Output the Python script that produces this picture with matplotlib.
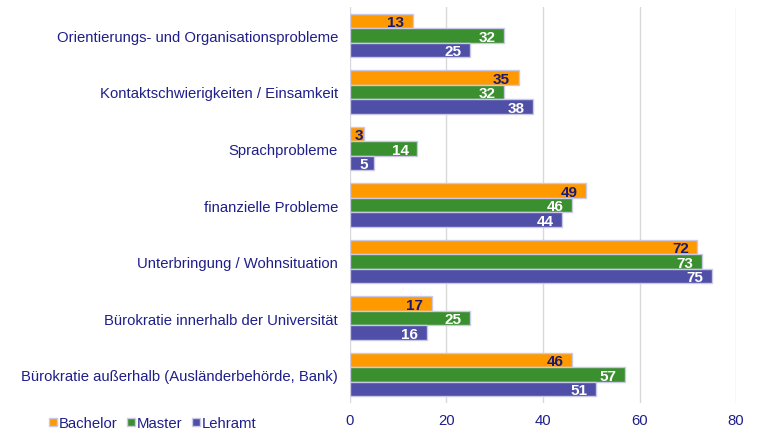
import numpy as np
import matplotlib.pyplot as plt
from matplotlib.lines import Line2D

categories = [
    "Orientierungs- und Organisationsprobleme",
    "Kontaktschwierigkeiten / Einsamkeit",
    "Sprachprobleme",
    "finanzielle Probleme",
    "Unterbringung / Wohnsituation",
    "Bürokratie innerhalb der Universität",
    "Bürokratie außerhalb (Ausländerbehörde, Bank)",
]
bachelor = [13, 35, 3, 49, 72, 17, 46]
master = [32, 32, 14, 46, 73, 25, 57]
lehramt = [25, 38, 5, 44, 75, 16, 51]
series_names = ["Bachelor", "Master", "Lehramt"]

colors = ["#FF9900", "#3A8F2E", "#4F4FA8"]
label_colors = ["#1A1A6E", "white", "white"]
navy = "#1F1F8A"

plt.rcParams['font.family'] = ['Liberation Sans', 'DejaVu Sans']

fig = plt.figure(figsize=(7.62, 4.31), dpi=100)
ax = fig.add_axes([0.459, 0.063, 0.507, 0.918])

y = np.arange(len(categories))
h = 0.257
for k, vals in enumerate([bachelor, master, lehramt]):
    pos = y + (k - 1) * h
    bars = ax.barh(pos, vals, height=h, color=colors[k], edgecolor="#C9C9E6",
                   linewidth=1.0, zorder=3)
    for b, v in zip(bars, vals):
        yc = b.get_y() + b.get_height() / 2 + 0.02
        if v < 8:
            # short bar: centre the label
            ax.text(v / 2 + 0.4, yc, str(v), ha="center", va="center",
                    fontsize=11, fontweight="bold", color=label_colors[k], zorder=4)
        else:
            ax.text(v - 1.8, yc, str(v), ha="right", va="center",
                    fontsize=11, fontweight="bold", color=label_colors[k], zorder=4)

ax.set_xlim(0, 80)
ax.set_ylim(len(categories) - 0.5, -0.5)
ax.set_xticks([0, 20, 40, 60, 80])
ax.set_yticks(y)
ax.set_yticklabels(categories)
ax.tick_params(axis="y", length=0, pad=8.5, labelsize=10.7, labelcolor=navy)
ax.tick_params(axis="x", length=0, pad=7, labelsize=10.7, labelcolor=navy)
ax.grid(axis="x", color="#D9D9D9", linewidth=1.0, zorder=0)
for s in ax.spines.values():
    s.set_visible(False)

handles = [Line2D([0], [0], marker="s", linestyle="none", markersize=5.5,
                  markerfacecolor=c, markeredgecolor="#C9C9E6")
           for c in colors]
fig.legend(handles, series_names, loc="center left", bbox_to_anchor=(0.062, 0.016),
           ncol=3, frameon=False, fontsize=10.7, labelcolor=navy,
           handletextpad=0.0, columnspacing=0.5, handlelength=0.8,
           borderpad=0, borderaxespad=0)

fig.savefig("out.png", dpi=100)
